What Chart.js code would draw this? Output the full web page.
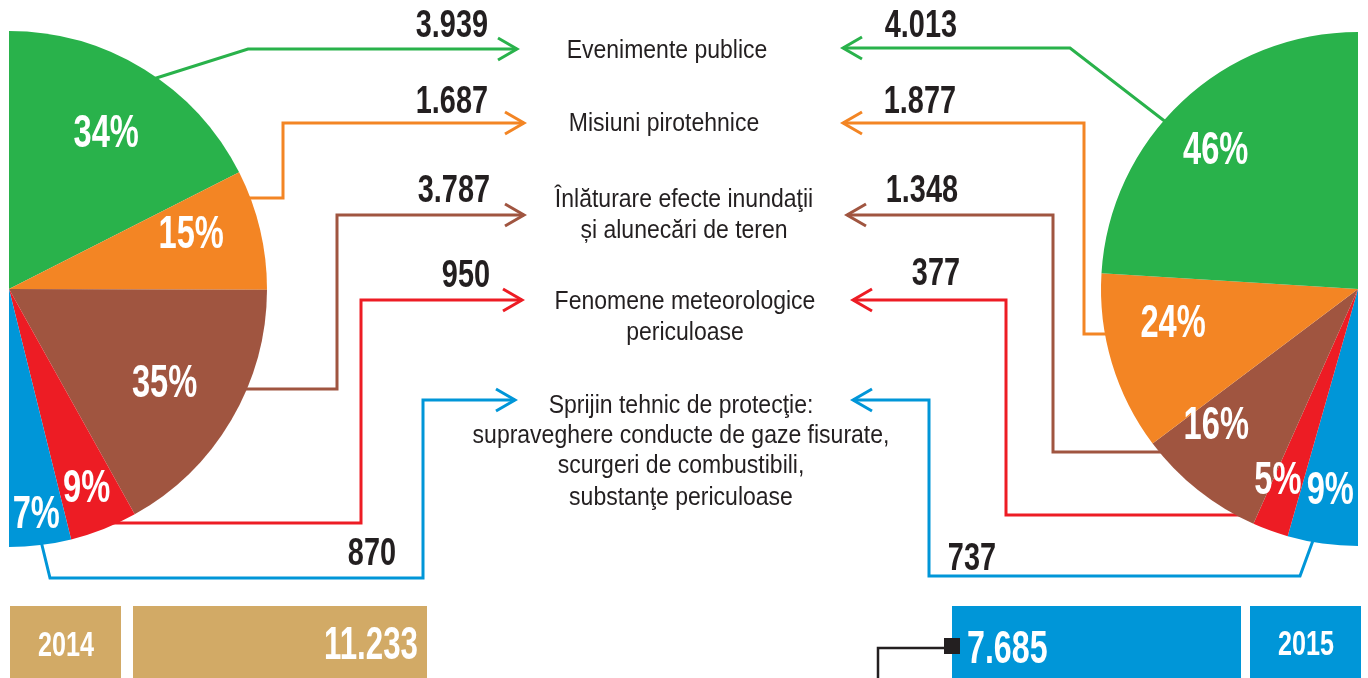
<!DOCTYPE html>
<html><head><meta charset="utf-8">
<script src="https://cdn.jsdelivr.net/npm/chart.js@4.4.1/dist/chart.umd.min.js"></script>
<style>
html,body{margin:0;padding:0;background:#fff;overflow:hidden}
#wrap{position:relative;width:1368px;height:678px}
canvas{position:absolute;left:0;top:0}
</style></head><body>
<div id="wrap"><canvas id="c2014" width="1368" height="678"></canvas><canvas id="c2015" width="1368" height="678"></canvas></div>
<script>
// ---------- DATA ----------
const categories = [
  ["Evenimente publice"],
  ["Misiuni pirotehnice"],
  ["Înlăturare efecte inundaţii", "și alunecări de teren"],
  ["Fenomene meteorologice", "periculoase"],
  ["Sprijin tehnic de protecţie:", "supraveghere conducte de gaze fisurate,", "scurgeri de combustibili,", "substanţe periculoase"]
];
const values2014 = [3939, 1687, 3787, 950, 870];
const values2015 = [4013, 1877, 1348, 377, 737];
const percent2014 = ["34%", "15%", "35%", "9%", "7%"];
const percent2015 = ["46%", "24%", "16%", "5%", "9%"];
const countLabels2014 = ["3.939", "1.687", "3.787", "950", "870"];
const countLabels2015 = ["4.013", "1.877", "1.348", "377", "737"];
const years = ["2014", "2015"];
const totalLabels = ["11.233", "7.685"];

// ---------- STYLE / LAYOUT ----------
const colors = ['#29b24b', '#f38524', '#a05540', '#ed1c24', '#0096d8'];
const DARK = '#231f20';
const GOLD = '#d2aa66';
const FONT = '"Liberation Sans", Arial, Helvetica, sans-serif';

const labelRadius2014 = [0.72, 0.74, 0.70, 0.82, 0.87];
const labelShift2014 = [0, -4, 0, 0, 0];
const labelRadius2015 = [0.78, 0.73, 0.76, 0.80, 0.78];
const labelShift2015 = [-2, 7, 8, 3, 0];

const connectors2014 = [
  [[150,80],[248,49],[517,49]],
  [[240,198],[283,198],[283,123],[524,123]],
  [[235,389],[337,389],[337,215],[524,215]],
  [[95,523],[361,523],[361,300],[522,300]],
  [[40,537],[50,578],[423,578],[423,400],[515,400]]
];
const connectors2015 = [
  [[1171,126],[1070,48],[843,48]],
  [[1115,334],[1084,334],[1084,123],[843,123]],
  [[1170,452],[1053,452],[1053,215],[847,215]],
  [[1245,515],[1006,515],[1006,300],[853,300]],
  [[1315,535],[1300,576],[929,576],[929,400],[853,400]]
];
const countPos2014 = [[488,37],[488,113],[490,202],[490,287],[396,565]];
const countPos2015 = [[957,37],[956,113],[958,202],[960,285],[996,570]];
const catPos = [
  {cx:667, ys:[58]},
  {cx:664, ys:[131]},
  {cx:684, ys:[207,238]},
  {cx:685, ys:[309,340]},
  {cx:681, ys:[413,443,473,505]}
];

function txt(ctx, s, x, y, o) {
  ctx.save();
  ctx.font = (o.weight || 'normal') + ' ' + o.size + 'px ' + FONT;
  ctx.fillStyle = o.color || DARK;
  ctx.textBaseline = 'alphabetic';
  ctx.textAlign = o.align || 'left';
  ctx.translate(x, y);
  ctx.scale(o.sx || 1, 1);
  ctx.fillText(s, 0, 0);
  ctx.restore();
}
function polyline(ctx, pts, color, w) {
  ctx.save();
  ctx.strokeStyle = color; ctx.lineWidth = w; ctx.lineJoin = 'miter'; ctx.lineCap = 'butt';
  ctx.beginPath();
  pts.forEach((p, i) => i ? ctx.lineTo(p[0], p[1]) : ctx.moveTo(p[0], p[1]));
  ctx.stroke();
  ctx.restore();
}
function arrowHead(ctx, tip, dir, color) {
  polyline(ctx, [[tip[0] - dir*19, tip[1] - 11], tip, [tip[0] - dir*19, tip[1] + 11]], color, 3);
}
function pieLabels(chart, labels, fracs, shifts) {
  const ctx = chart.ctx;
  const arcs = chart.getDatasetMeta(0).data;
  arcs.forEach((a, i) => {
    const p = a.getProps(['x','y','startAngle','endAngle','outerRadius'], true);
    const mid = (p.startAngle + p.endAngle) / 2 + shifts[i] * Math.PI / 180;
    const r = p.outerRadius * fracs[i];
    const cx = p.x + Math.cos(mid) * r, cy = p.y + Math.sin(mid) * r;
    txt(ctx, labels[i], cx, cy + 16, {size:46, weight:'bold', sx:0.71, color:'#fff', align:'center'});
  });
}

const deco2014 = {
  id: 'deco2014',
  beforeDatasetsDraw(chart) {
    const ctx = chart.ctx;
    connectors2014.forEach((pts, i) => {
      polyline(ctx, pts, colors[i], 3);
      arrowHead(ctx, pts[pts.length - 1], 1, colors[i]);
    });
  },
  afterDatasetsDraw(chart) {
    const ctx = chart.ctx;
    pieLabels(chart, percent2014, labelRadius2014, labelShift2014);
    countLabels2014.forEach((s, i) => txt(ctx, s, countPos2014[i][0], countPos2014[i][1], {size:38, weight:'bold', sx:0.76, align:'right'}));
    categories.forEach((lines, i) => lines.forEach((l, j) =>
      txt(ctx, l, catPos[i].cx, catPos[i].ys[j], {size:25, sx:0.92, align:'center'})));
    ctx.fillStyle = GOLD;
    ctx.fillRect(10, 606, 111, 72);
    ctx.fillRect(133, 606, 294, 72);
    txt(ctx, years[0], 66, 656, {size:35, weight:'bold', sx:0.72, color:'#fff', align:'center'});
    txt(ctx, totalLabels[0], 418, 659, {size:46, weight:'bold', sx:0.68, color:'#fff', align:'right'});
  }
};
const deco2015 = {
  id: 'deco2015',
  beforeDatasetsDraw(chart) {
    const ctx = chart.ctx;
    connectors2015.forEach((pts, i) => {
      polyline(ctx, pts, colors[i], 3);
      arrowHead(ctx, pts[pts.length - 1], -1, colors[i]);
    });
  },
  afterDatasetsDraw(chart) {
    const ctx = chart.ctx;
    pieLabels(chart, percent2015.slice().reverse(), labelRadius2015.slice().reverse(), labelShift2015.slice().reverse());
    countLabels2015.forEach((s, i) => txt(ctx, s, countPos2015[i][0], countPos2015[i][1], {size:38, weight:'bold', sx:0.76, align:'right'}));
    ctx.fillStyle = '#0096d8';
    ctx.fillRect(952, 606, 289, 72);
    ctx.fillRect(1250, 606, 111, 72);
    txt(ctx, totalLabels[1], 967, 663, {size:46, weight:'bold', sx:0.70, color:'#fff', align:'left'});
    txt(ctx, years[1], 1306, 655, {size:35, weight:'bold', sx:0.72, color:'#fff', align:'center'});
    polyline(ctx, [[878,678],[878,648],[946,648]], DARK, 2.5);
    ctx.fillStyle = DARK;
    ctx.fillRect(944, 638, 16, 16);
  }
};

function pieConfig(values, cols, padding, rotation, plugin) {
  return {
    type: 'pie',
    data: {
      labels: categories.map(c => c.join(' ')),
      datasets: [{ data: values, backgroundColor: cols, borderWidth: 0, hoverOffset: 0 }]
    },
    options: {
      responsive: false,
      animation: false,
      events: [],
      rotation: rotation,
      circumference: 180,
      layout: { padding: padding },
      plugins: { legend: { display: false }, tooltip: { enabled: false } }
    },
    plugins: [plugin]
  };
}

new Chart(document.getElementById('c2014'),
  pieConfig(values2014, colors, {left:9, top:31, right:1101, bottom:131}, 0, deco2014));
new Chart(document.getElementById('c2015'),
  pieConfig(values2015.slice().reverse(), colors.slice().reverse(), {left:1101, top:32, right:10, bottom:132}, 180, deco2015));
</script>
</body></html>
